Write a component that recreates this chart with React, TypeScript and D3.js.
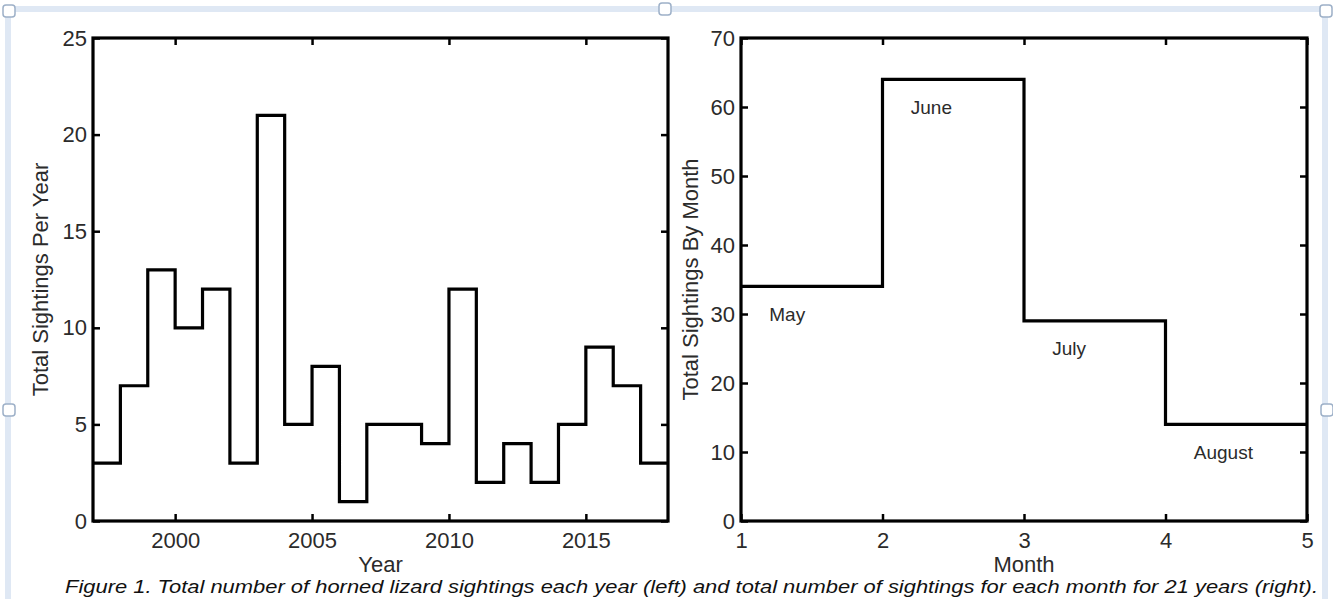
import React, { Component, createRef } from 'react';
import * as d3 from 'd3';

// horned lizard sightings, one value per year (stairs, left panel)
const years = [1997, 1998, 1999, 2000, 2001, 2002, 2003, 2004, 2005, 2006, 2007,
    2008, 2009, 2010, 2011, 2012, 2013, 2014, 2015, 2016, 2017];
const yearlySightings = [3, 7, 13, 10, 12, 3, 21, 5, 8, 1, 5, 5, 4, 12, 2, 4, 2, 5, 9, 7, 3];
const yearTicks = [2000, 2005, 2010, 2015];
const yearCountTicks = [0, 5, 10, 15, 20, 25];

// sightings by month (right panel)
const months = [1, 2, 3, 4];
const monthNames = ['May', 'June', 'July', 'August'];
const monthlySightings = [34, 64, 29, 14];
const monthTicks = [1, 2, 3, 4, 5];
const monthCountTicks = [0, 10, 20, 30, 40, 50, 60, 70];

const caption = 'Figure 1. Total number of horned lizard sightings each year (left) and total number of sightings for each month for 21 years (right).';

const W = 1333, H = 599;
const top = 38, bottom = 521;
const font = '"Liberation Sans", Arial, Helvetica, sans-serif';
const textColor = '#2b2b2b';

class App extends Component {
    svgRef = createRef<SVGSVGElement>();

    componentDidMount() {
        this.drawChart();
    }

    drawPanel(svg, opts) {
        const x = d3.scaleLinear().domain(opts.xDomain).range([opts.left, opts.right]);
        const y = d3.scaleLinear().domain(opts.yDomain).range([bottom, top]);

        // stairs line, last level carried to the end of the x range
        const pts = opts.xs.map((d, i) => [d, opts.ys[i]]);
        pts.push([opts.xDomain[1], opts.ys[opts.ys.length - 1]]);
        const line = d3.line().x(d => x(d[0])).y(d => y(d[1])).curve(d3.curveStepAfter);

        svg.append('path')
            .attr('d', line(pts))
            .attr('fill', 'none')
            .attr('stroke', '#000')
            .attr('stroke-width', 3.2)
            .attr('stroke-linejoin', 'miter');

        const styleAxis = (g) => {
            g.select('.domain').remove();
            g.selectAll('line').attr('stroke', '#000').attr('stroke-width', 2.5);
            g.selectAll('text')
                .attr('font-family', font)
                .attr('font-size', 22)
                .attr('fill', textColor);
        };

        svg.append('g')
            .attr('transform', `translate(0,${bottom})`)
            .call(d3.axisBottom(x).tickValues(opts.xTicks).tickSize(-7).tickPadding(11).tickFormat(d3.format('d')))
            .call(styleAxis);
        svg.append('g')
            .attr('transform', `translate(0,${top})`)
            .call(d3.axisTop(x).tickValues(opts.xTicks).tickSize(-7).tickFormat(() => ''))
            .call(styleAxis);
        svg.append('g')
            .attr('transform', `translate(${opts.left},0)`)
            .call(d3.axisLeft(y).tickValues(opts.yTicks).tickSize(-7).tickPadding(6))
            .call(styleAxis);
        svg.append('g')
            .attr('transform', `translate(${opts.right},0)`)
            .call(d3.axisRight(y).tickValues(opts.yTicks).tickSize(-7).tickFormat(() => ''))
            .call(styleAxis);

        // axes box
        svg.append('rect')
            .attr('x', opts.left)
            .attr('y', top)
            .attr('width', opts.right - opts.left)
            .attr('height', bottom - top)
            .attr('fill', 'none')
            .attr('stroke', '#000')
            .attr('stroke-width', 3.2);

        // x label
        svg.append('text')
            .attr('x', (opts.left + opts.right) / 2)
            .attr('y', 572)
            .attr('text-anchor', 'middle')
            .attr('font-family', font)
            .attr('font-size', 22)
            .attr('fill', textColor)
            .text(opts.xLabel);

        // y label
        svg.append('text')
            .attr('transform', `translate(${opts.yLabelX},${(top + bottom) / 2}) rotate(-90)`)
            .attr('text-anchor', 'middle')
            .attr('font-family', font)
            .attr('font-size', 22)
            .attr('fill', textColor)
            .text(opts.yLabel);

        return { x, y };
    }

    drawChart() {
        const svg = d3.select(this.svgRef.current);
        svg.selectAll('*').remove();

        svg.append('rect').attr('width', W).attr('height', H).attr('fill', '#fff');

        // light blue selection frame of the embedded picture
        svg.append('rect')
            .attr('x', 8).attr('y', 9)
            .attr('width', 1317).attr('height', 640)
            .attr('fill', 'none')
            .attr('stroke', '#dfe8f4')
            .attr('stroke-width', 6);
        const handles = [[9, 11], [665, 9], [1326, 11], [9, 410], [1327, 410]];
        svg.selectAll('rect.handle')
            .data(handles)
            .enter()
            .append('rect')
            .attr('class', 'handle')
            .attr('x', d => d[0] - 6).attr('y', d => d[1] - 6)
            .attr('width', 12).attr('height', 12)
            .attr('rx', 3)
            .attr('fill', '#fff')
            .attr('stroke', '#9db0c8')
            .attr('stroke-width', 1.5);

        this.drawPanel(svg, {
            left: 93, right: 668,
            xDomain: [1997, 2018], yDomain: [0, 25],
            xs: years, ys: yearlySightings,
            xTicks: yearTicks, yTicks: yearCountTicks,
            xLabel: 'Year', yLabel: 'Total Sightings Per Year',
            yLabelX: 48
        });

        const right = this.drawPanel(svg, {
            left: 741, right: 1307,
            xDomain: [1, 5], yDomain: [0, 70],
            xs: months, ys: monthlySightings,
            xTicks: monthTicks, yTicks: monthCountTicks,
            xLabel: 'Month', yLabel: 'Total Sightings By Month',
            yLabelX: 698
        });

        // month names written inside the stairs
        svg.selectAll('text.month')
            .data(months)
            .enter()
            .append('text')
            .attr('class', 'month')
            .attr('x', (d) => right.x(d + 0.2))
            .attr('y', (d, i) => right.y(monthlySightings[i] - 4))
            .attr('dy', '0.35em')
            .attr('font-family', font)
            .attr('font-size', 19)
            .attr('fill', textColor)
            .text((d, i) => monthNames[i]);

        svg.append('text')
            .attr('x', 65)
            .attr('y', 593)
            .attr('font-family', font)
            .attr('font-style', 'italic')
            .attr('font-size', 19)
            .attr('fill', '#111')
            .attr('textLength', 1253)
            .attr('lengthAdjust', 'spacingAndGlyphs')
            .text(caption);
    }

    render() {
        return (
            <svg ref={this.svgRef} width={W} height={H}
                style={{ position: 'absolute', left: 0, top: 0, display: 'block' }} />
        );
    }
}

export default App;
